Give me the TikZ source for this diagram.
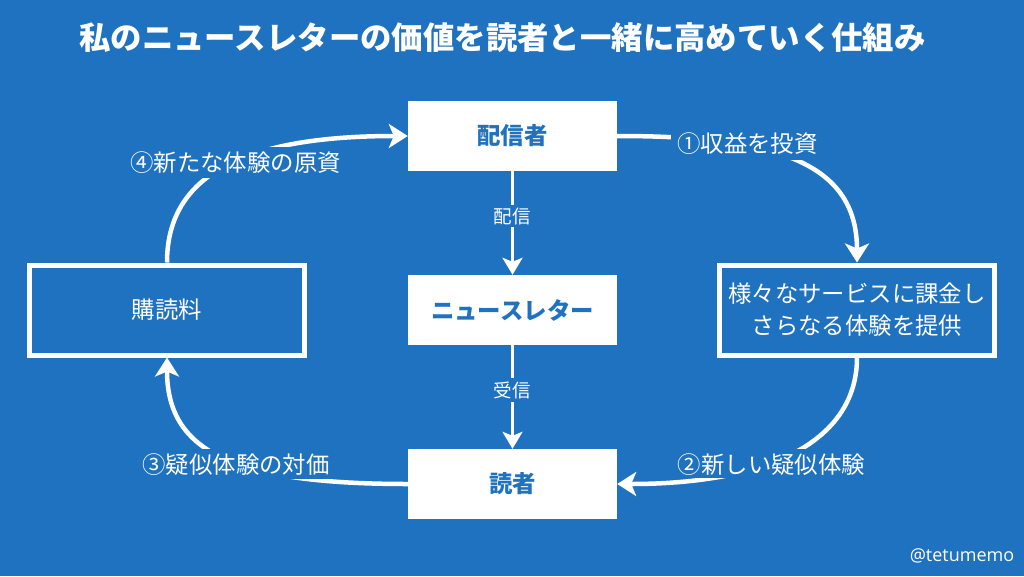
\documentclass[tikz,border=0pt]{standalone}
\usepackage{fontspec}
\setmainfont{Noto Sans CJK JP}
\newfontfamily\latinf{Open Sans}
\usetikzlibrary{arrows.meta}
\definecolor{bgblue}{HTML}{1F72BF}
\tikzset{
  px/.style={x=1pt,y=-1pt},
  solidbox/.style={draw=none,fill=white,text=bgblue,minimum width=209pt,minimum height=70pt,inner sep=0pt,font=\fontsize{23.4pt}{28pt}\selectfont\bfseries},
  framebox/.style={draw=white,line width=5pt,fill=bgblue,text=white,minimum width=275pt,minimum height=90pt,inner sep=0pt,align=center,font=\fontsize{23.4pt}{32pt}\selectfont},
  biglink/.style={draw=white,line width=4.5pt,-{Stealth[length=19pt,width=24pt,inset=5pt]}},
  midlink/.style={draw=white,line width=3.3pt,-{Stealth[length=17pt,width=20pt,inset=4pt]}},
  steplabel/.style={text=white,inner sep=0pt,font=\fontsize{23.4pt}{28pt}\selectfont},
  midlabel/.style={fill=bgblue,text=white,inner xsep=0pt,inner ysep=3pt,font=\fontsize{18.5pt}{22pt}\selectfont},
}
\begin{document}
\begin{tikzpicture}[px]
\useasboundingbox (0,0) rectangle (1024,576);
\fill[bgblue] (0,0) rectangle (1024,576);
\node[text=white,font=\fontsize{31.4pt}{36pt}\selectfont\bfseries] (title) at (502.5,38) {私のニュースレターの価値を読者と一緒に高めていく仕組み};
\node[solidbox] (sender) at (512.5,136) {配信者};
\node[solidbox] (news) at (512.5,310) {ニュースレター};
\node[solidbox] (reader) at (512.5,484) {読者};
\node[framebox] (fee) at (167,310) {購読料};
\node[framebox] (svc) at (857,310) {様々なサービスに課金し\\さらなる体験を提供};
\draw[biglink] (sender.east) .. controls (770,136) and (857,160) .. (svc.north);
\draw[biglink] (svc.south) .. controls (857,435) and (780,484) .. (reader.east);
\draw[biglink] (reader.west) .. controls (230,484) and (167,450) .. (fee.south);
\draw[biglink] (fee.north) .. controls (167,180) and (235,136) .. (sender.west);
\draw[midlink] (sender) -- (news);
\draw[midlink] (news) -- (reader);
\node[midlabel] (l5) at (512,216) {配信};
\node[midlabel] (l6) at (512,390) {受信};
\fill[bgblue] (671,128) rectangle (822,160);
\node[steplabel] (l1) at (747.5,143.5) {①収益を投資};
\fill[bgblue] (672,449) rectangle (870,478);
\node[steplabel] (l2) at (771.5,464.5) {②新しい疑似体験};
\fill[bgblue] (136,449) rectangle (333,479);
\node[steplabel] (l3) at (236,464.5) {③疑似体験の対価};
\fill[bgblue] (126,147) rectangle (345,178);
\node[steplabel] (l4) at (235.5,162.5) {④新たな体験の原資};
\node[text=white,font=\latinf\fontsize{18pt}{20pt}\selectfont] (credit) at (962,556) {@tetumemo};
\end{tikzpicture}
\end{document}
